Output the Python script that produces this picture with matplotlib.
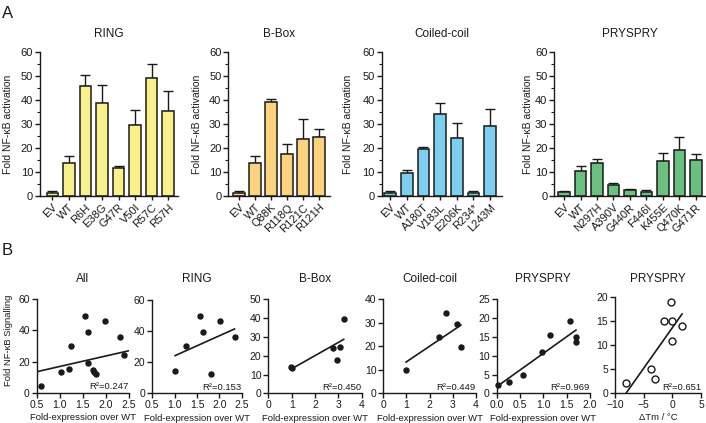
import matplotlib
matplotlib.use("Agg")
import matplotlib.pyplot as plt
import numpy as np
from matplotlib.ticker import MultipleLocator

plt.rcParams['font.family'] = ['Liberation Sans', 'DejaVu Sans']
TXT = '#1a1a1a'
plt.rcParams['text.color'] = TXT
plt.rcParams['axes.labelcolor'] = TXT
plt.rcParams['xtick.color'] = TXT
plt.rcParams['ytick.color'] = TXT

# ---------------- Panel A data ----------------
ring_labels = ['EV', 'WT', 'R6H', 'E38G', 'G47R', 'V50I', 'R57C', 'R57H']
ring_vals = [1.4, 13.6, 46.0, 38.7, 11.8, 29.8, 49.3, 35.5]
ring_err = [0.6, 3.1, 4.4, 7.7, 0.9, 6.2, 5.7, 8.4]

bbox_labels = ['EV', 'WT', 'Q88K', 'R118Q', 'R121C', 'R121H']
bbox_vals = [1.4, 13.9, 39.1, 17.4, 23.8, 24.5]
bbox_err = [0.6, 2.8, 1.5, 4.3, 8.4, 3.6]

cc_labels = ['EV', 'WT', 'A180T', 'V183L', 'E206K', 'R234*', 'L243M']
cc_vals = [1.4, 9.6, 19.5, 34.1, 24.1, 1.4, 29.4]
cc_err = [0.6, 1.4, 1.0, 4.6, 6.2, 0.6, 6.8]

pry_labels = ['EV', 'WT', 'N297H', 'A390V', 'G440R', 'F446I', 'K455E', 'Q470K', 'G471R']
pry_vals = [1.7, 10.6, 13.6, 4.6, 2.6, 1.8, 14.8, 19.0, 15.2]
pry_err = [0.5, 1.8, 2.0, 0.8, 0.3, 0.6, 3.2, 5.7, 2.2]

bar_titles = ['RING', 'B-Box', 'Coiled-coil', 'PRYSPRY']
bar_colors = ['#F8F08A', '#FBD27E', '#7DCFF0', '#6CC07F']

# ---------------- Panel B data ----------------
all_x = [0.59, 1.02, 1.20, 1.24, 1.55, 1.62, 1.62, 1.73, 1.75, 1.78, 1.98, 2.30, 2.40]
all_y = [4.5, 13.5, 15.2, 30.0, 49.5, 38.8, 19.3, 14.6, 13.5, 12.0, 46.0, 35.8, 24.0]

ringsc_x = [1.01, 1.25, 1.57, 1.63, 1.81, 2.01, 2.34]
ringsc_y = [14.1, 30.2, 49.9, 39.2, 12.4, 46.5, 36.2]

bboxsc_x = [0.97, 1.0, 2.76, 2.93, 3.09, 3.23]
bboxsc_y = [14.2, 13.4, 24.1, 17.7, 24.8, 39.4]

ccsc_x = [0.98, 2.41, 2.71, 3.17, 3.35]
ccsc_y = [9.9, 24.1, 34.0, 29.4, 19.6]

prysc_x = [0.03, 0.27, 0.56, 0.97, 1.15, 1.58, 1.70, 1.70]
prysc_y = [2.2, 3.1, 4.9, 10.9, 15.5, 19.1, 15.0, 13.7]

dtm_x = [-8.1, -3.8, -3.1, -1.45, -0.1, -0.2, 0.0, 1.7]
dtm_y = [2.0, 4.9, 2.9, 14.9, 15.0, 18.9, 10.9, 14.0]

scatter_titles = ['All', 'RING', 'B-Box', 'Coiled-coil', 'PRYSPRY', 'PRYSPRY']
fit_slope = [6.75, 12.9, 7.03, 6.65, 8.86, 1.69]
fit_intercept = [10.1, 11.2, 5.98, 6.75, 1.76, 13.6]
r2_labels = ['R²=0.247', 'R²=0.153', 'R²=0.450', 'R²=0.449', 'R²=0.969', 'R²=0.651']

# ---------------- figure ----------------
W, H = 706, 423
fig = plt.figure(figsize=(W / 100, H / 100), dpi=100)


def add_ax(l, r, t, b):
    return fig.add_axes([l / W, 1 - b / H, (r - l) / W, (b - t) / H])


def style(ax, fs):
    for s in ['top', 'right']:
        ax.spines[s].set_visible(False)
    for s in ['left', 'bottom']:
        ax.spines[s].set_linewidth(1.0)
        ax.spines[s].set_color(TXT)
    ax.tick_params(which='major', direction='out', length=3.5, width=1.0, labelsize=fs, pad=1.5)
    ax.tick_params(which='minor', direction='out', length=2, width=0.8)


bar_boxes = [(40, 178), (228.3, 330), (381.7, 501.7), (554.3, 705)]
bar_xlims = [(-0.75, 7.6), (-0.67, 5.69), (-0.5, 6.7), (-0.59, 8.55)]
ylabel_px = [13, 201.7, 353.3, 533]
bar_data = [(ring_labels, ring_vals, ring_err), (bbox_labels, bbox_vals, bbox_err),
            (cc_labels, cc_vals, cc_err), (pry_labels, pry_vals, pry_err)]

for i, ((l, r), (labels, vals, errs)) in enumerate(zip(bar_boxes, bar_data)):
    ax = add_ax(l, r, 52.3, 196)
    style(ax, 8)
    x = np.arange(len(labels))
    ax.bar(x, vals, width=0.7, color=bar_colors[i], edgecolor=TXT, linewidth=1.1, zorder=2)
    ax.errorbar(x, vals, yerr=[np.zeros(len(errs)), errs], fmt='none', ecolor=TXT,
                elinewidth=1.0, capsize=3.5, capthick=1.0, zorder=1)
    ax.set_xlim(*bar_xlims[i])
    ax.set_ylim(0, 60)
    ax.yaxis.set_major_locator(MultipleLocator(10))
    ax.yaxis.set_minor_locator(MultipleLocator(5))
    ax.set_xticks(x)
    ax.set_xticklabels(labels, rotation=45, ha='right', va='top', rotation_mode='anchor')
    ax.tick_params(axis='x', length=3)
    ax.set_title(bar_titles[i], fontsize=8.5, pad=11)
    ax.set_ylabel('Fold NF-κB activation', fontsize=7.5)
    ax.yaxis.set_label_coords((ylabel_px[i] - l) / (r - l), 0.5)

fig.text(2 / W, 1 - 6 / H, 'A', fontsize=12, va='top', ha='left')
fig.text(2 / W, 1 - 243 / H, 'B', fontsize=12, va='top', ha='left')

sc_boxes = [(36.7, 129, 299.3, 392.7), (152.3, 241.7, 300, 393.3), (268.3, 361.7, 299.3, 393.3),
            (383.3, 476, 299.3, 393.3), (496.7, 590, 299.3, 393.3), (615, 701, 297, 393)]
sc_xlims = [(0.5, 2.5), (0.5, 2.5), (0, 4), (0, 4), (0, 2.0), (-10, 5)]
sc_ylims = [(0, 60), (0, 60), (0, 50), (0, 40), (0, 25), (0, 20)]
sc_xstep = [0.5, 0.5, 1, 1, 0.5, 5]
sc_ystep = [20, 20, 10, 10, 5, 5]
sc_data = [(all_x, all_y), (ringsc_x, ringsc_y), (bboxsc_x, bboxsc_y),
           (ccsc_x, ccsc_y), (prysc_x, prysc_y), (dtm_x, dtm_y)]

for i, ((l, r, t, b), (xs, ys)) in enumerate(zip(sc_boxes, sc_data)):
    ax = add_ax(l, r, t, b)
    style(ax, 7.5)
    ax.set_xlim(*sc_xlims[i])
    ax.set_ylim(*sc_ylims[i])
    ax.xaxis.set_major_locator(MultipleLocator(sc_xstep[i]))
    ax.yaxis.set_major_locator(MultipleLocator(sc_ystep[i]))
    if sc_xstep[i] == 0.5:
        ax.xaxis.set_major_formatter(plt.FormatStrFormatter('%.1f'))
    if i == 5:
        ax.plot(xs, ys, 'o', mfc='white', mec=TXT, ms=5, mew=1.0, clip_on=False, zorder=3)
        lx = np.array([sc_xlims[i][0], max(xs)])
    else:
        ax.plot(xs, ys, 'o', color=TXT, ms=3.6, clip_on=False, zorder=3)
        if i == 0:
            lx = np.array(sc_xlims[i])
        else:
            lx = np.array([min(xs), max(xs)])
    ax.plot(lx, fit_slope[i] * lx + fit_intercept[i], color=TXT, lw=1.2, zorder=2)
    ax.text(1.0, 0.035, r2_labels[i], transform=ax.transAxes, ha='right', va='baseline', fontsize=6.8)
    fig.text((l + r) / 2 / W, 1 - 282 / H, scatter_titles[i], fontsize=8.5,
             ha='center', va='baseline')
    if i == 5:
        ax.set_xlabel('ΔTm / °C', fontsize=6.8, labelpad=2.5)
    else:
        ax.set_xlabel('Fold-expression over WT', fontsize=6.8, labelpad=2.5)
    if i == 0:
        ax.set_ylabel('Fold NF-κB Signalling', fontsize=6.8)
        ax.yaxis.set_label_coords((12.7 - l) / (r - l), 0.56)

fig.savefig('out.png', dpi=100)
